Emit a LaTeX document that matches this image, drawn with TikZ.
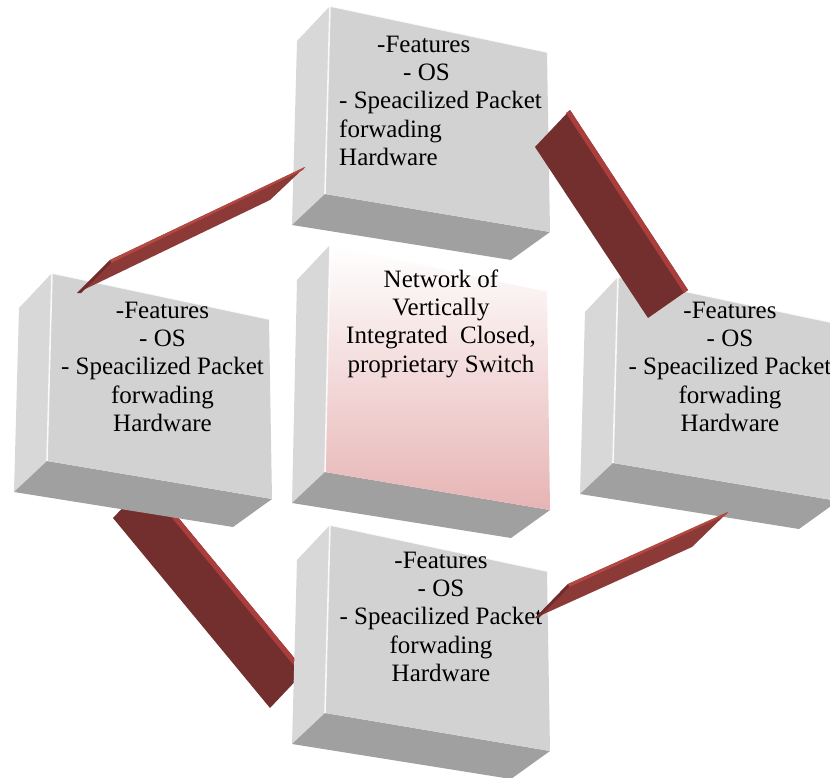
\documentclass[tikz,border=0pt]{standalone}
\usepackage{fontspec}
\setmainfont{Liberation Serif}
\usetikzlibrary{calc}

\definecolor{frontgray}{RGB}{210,210,210}
\definecolor{sidegray}{RGB}{216,216,216}
\definecolor{bottomgray}{RGB}{160,160,160}
\definecolor{pinkbottom}{RGB}{231,180,180}
\definecolor{pinkmid}{RGB}{242,221,221}
\definecolor{barbody}{RGB}{115,46,46}
\definecolor{baredge}{RGB}{170,62,60}
\definecolor{thinbody}{RGB}{140,58,56}
\definecolor{thinedge}{RGB}{182,72,66}
\definecolor{thinend}{RGB}{112,44,44}

\tikzset{
  sideface/.style={fill=sidegray},
  bottomface/.style={fill=bottomgray},
  frontface/.style={fill=frontgray},
  hilite/.style={draw=white, line width=1.6pt, opacity=0.85, line join=round},
  label/.style={inner sep=0pt, font=\fontsize{25}{28.4}\selectfont, text=black},
}

% A slab seen in perspective: front face corners plus the receding side and bottom
\newcommand\slab[4]{% name, x, y, left height
  \coordinate (#1-tl) at (#2,#3);
  \coordinate (#1-tr) at ($(#1-tl)+(217,46)$);
  \coordinate (#1-bl) at ($(#1-tl)+(-5,#4)$);
  \coordinate (#1-br) at ($(#1-tl)+(220,{#4+38})$);
  \coordinate (#1-btl) at ($(#1-tl)+(-33,35)$);
  \coordinate (#1-bbl) at ($(#1-bl)+(-33,31)$);
  \coordinate (#1-bbr) at ($(#1-br)+(-39,28)$);
  \fill[sideface] (#1-tl) -- (#1-btl) -- (#1-bbl) -- (#1-bl) -- cycle;
  \fill[bottomface] (#1-bl) -- (#1-bbl) -- (#1-bbr) -- (#1-br) -- cycle;
}
\newcommand\slabfront[1]{%
  \fill[frontface] (#1-tl) -- (#1-tr) -- (#1-br) -- (#1-bl) -- cycle;
  \draw[hilite] (#1-bl) -- (#1-tl) -- (#1-tr);
}

\begin{document}
\begin{tikzpicture}[x=1pt, y=-1pt]
\useasboundingbox (0,0) rectangle (830,778);

% lower-left link, passing beneath the slabs
\coordinate (ll-a) at (113,518);
\coordinate (ll-b) at (148,481);
\coordinate (ll-c) at (305,671);
\coordinate (ll-d) at (270,708);
\fill[barbody] (ll-a) -- (ll-b) -- (ll-c) -- (ll-d) -- cycle;
\fill[baredge] (ll-b) -- (ll-c) -- ($(ll-c)+(-4,3)$) -- ($(ll-b)+(-4,3)$) -- cycle;

% the five slabs
\slab{lft}{52}{273}{188}
\slabfront{lft}
\slab{bot}{330}{525}{188}
\slabfront{bot}
\slab{mid}{330}{245}{227}
\shade[top color=white, middle color=pinkmid, bottom color=pinkbottom]
  (mid-tl) -- (mid-tr) -- (mid-br) -- (mid-bl) -- cycle;
\draw[hilite] (mid-bl) -- (mid-tl) -- (mid-tr);
\slab{top}{330}{6}{188}
\slabfront{top}
\slab{rgt}{618}{277}{186}
\slabfront{rgt}

% slab texts
\node[label, anchor=north west, align=left] (toptext) at (339,32)
  {\strut\hspace*{38pt}-Features\\\hspace*{64pt}- OS\\- Speacilized Packet\\forwading\\Hardware};
\node[label, anchor=north, align=center] (lfttext) at (162.5,298)
  {\strut-Features\\- OS\\- Speacilized Packet\\forwading\\Hardware};
\node[label, anchor=north, align=center] (rgttext) at (730,298)
  {\strut-Features\\- OS\\- Speacilized Packet\\forwading\\Hardware};
\node[label, anchor=north, align=center] (bottext) at (441,548)
  {\strut-Features\\- OS\\- Speacilized Packet\\forwading\\Hardware};
\node[label, anchor=north, align=center] (midtext) at (441,267)
  {\strut Network of\\Vertically\\Integrated\ \ Closed,\\proprietary Switch};

% upper-right link, lying over the slabs
\coordinate (ur-a) at (570,110);
\coordinate (ur-b) at (535,147);
\coordinate (ur-c) at (648,318);
\coordinate (ur-d) at (688,290);
\fill[barbody] (ur-a) -- (ur-b) -- (ur-c) -- (ur-d) -- cycle;
\fill[baredge] (ur-a) -- (ur-d) -- ($(ur-d)+(-4,3)$) -- ($(ur-a)+(-4,3)$) -- cycle;

% thin upper-left link
\coordinate (ul-a) at (77,293);
\coordinate (ul-b) at (110,260);
\coordinate (ul-c) at (305,167);
\coordinate (ul-d) at (270,200);
\fill[thinbody] (ul-a) -- (ul-b) -- (ul-c) -- (ul-d) -- cycle;
\fill[thinedge] (ul-b) -- (ul-c) -- ($(ul-c)+(-2,3)$) -- ($(ul-b)+(1,3)$) -- cycle;
\fill[thinend] (ul-a) -- (ul-b) -- ($(ul-b)+(1,3)$) -- ($(ul-a)+(4,0)$) -- cycle;

% thin lower-right link
\coordinate (lr-a) at (535,618);
\coordinate (lr-b) at (568,584);
\coordinate (lr-c) at (728,512);
\coordinate (lr-d) at (692,547);
\fill[thinbody] (lr-a) -- (lr-b) -- (lr-c) -- (lr-d) -- cycle;
\fill[thinedge] (lr-b) -- (lr-c) -- ($(lr-c)+(-2,3)$) -- ($(lr-b)+(1,3)$) -- cycle;
\fill[thinend] (lr-a) -- (lr-b) -- ($(lr-b)+(1,3)$) -- ($(lr-a)+(4,0)$) -- cycle;
\end{tikzpicture}
\end{document}
